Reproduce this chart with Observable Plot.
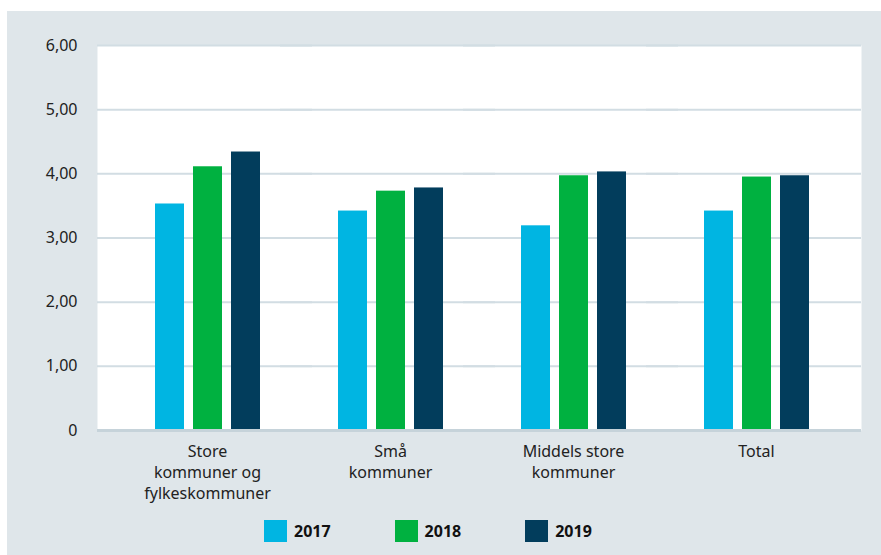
<!DOCTYPE html>
<html>
<head>
<meta charset="utf-8">
<script src="https://cdn.jsdelivr.net/npm/d3@7"></script>
<script src="https://cdn.jsdelivr.net/npm/@observablehq/plot@0.6"></script>
<style>
  body { margin: 0; background: #ffffff; font-family: "Noto Sans", sans-serif; }
  #fig { position: absolute; left: 7px; top: 11px; width: 874px; height: 544px; background: #dfe6ea; }
  #legend { display: flex; align-items: center; padding-left: 257px; margin-top: 9px; font-weight: bold; font-size: 16px; color: #111; }
  .item { display: flex; align-items: center; margin-right: 64px; }
  .sw { width: 23px; height: 22px; margin-right: 7px; }
</style>
</head>
<body>
<div id="fig"><div id="chart"></div><div id="legend"></div></div>
<script>
const categories = ["Store\nkommuner og\nfylkeskommuner", "Små\nkommuner", "Middels store\nkommuner", "Total"];
const years = ["2017", "2018", "2019"];
const values2017 = [3.53, 3.42, 3.19, 3.42];
const values2018 = [4.11, 3.73, 3.97, 3.95];
const values2019 = [4.34, 3.78, 4.03, 3.97];
const yTicks = [0, 1, 2, 3, 4, 5, 6];
const colors = ["#00b5e2", "#00b140", "#023d5c"];

const series = [values2017, values2018, values2019];
const table = [];
categories.forEach((c, i) => years.forEach((y, j) => table.push({category: c, year: y, value: series[j][i]})));

const fmt = d => d === 0 ? "0" : d.toFixed(2).replace(".", ",");

const chart = Plot.plot({
  width: 874, height: 500,
  marginLeft: 89, marginRight: 19, marginTop: 34, marginBottom: 81,
  style: {background: "transparent", fontFamily: "'Noto Sans', sans-serif", fontSize: "16px", color: "#222"},
  fx: {domain: categories, paddingInner: 0.42, paddingOuter: 0.295, align: 0.523, label: null},
  x: {domain: years, paddingInner: 0.237, paddingOuter: 0, axis: null},
  y: {domain: [0, 6], label: null},
  color: {domain: years, range: colors},
  marks: [
    Plot.frame({fill: "white", stroke: null, insetLeft: -57, insetRight: -52}),
    Plot.ruleY(yTicks.slice(1), {stroke: "#d2dde3", strokeWidth: 2, insetLeft: -57, insetRight: -52}),
    Plot.barY(table, {fx: "category", x: "year", y: "value", fill: "year"}),
    Plot.ruleY([0], {stroke: "#c6d3da", strokeWidth: 3, insetLeft: -57, insetRight: -52}),
    Plot.axisY(yTicks, {tickSize: 0, tickPadding: 77, tickFormat: fmt, fontSize: 16, label: null}),
    Plot.axisFx({anchor: "bottom", tickSize: 0, tickPadding: 12, fontSize: 16, label: null, lineHeight: 1.3})
  ]
});
document.getElementById("chart").appendChild(chart);

const legend = document.getElementById("legend");
years.forEach((y, i) => {
  const it = document.createElement("div");
  it.className = "item";
  const sw = document.createElement("div");
  sw.className = "sw";
  sw.style.background = colors[i];
  const t = document.createElement("span");
  t.textContent = y;
  it.appendChild(sw); it.appendChild(t);
  legend.appendChild(it);
});
</script>
</body>
</html>
